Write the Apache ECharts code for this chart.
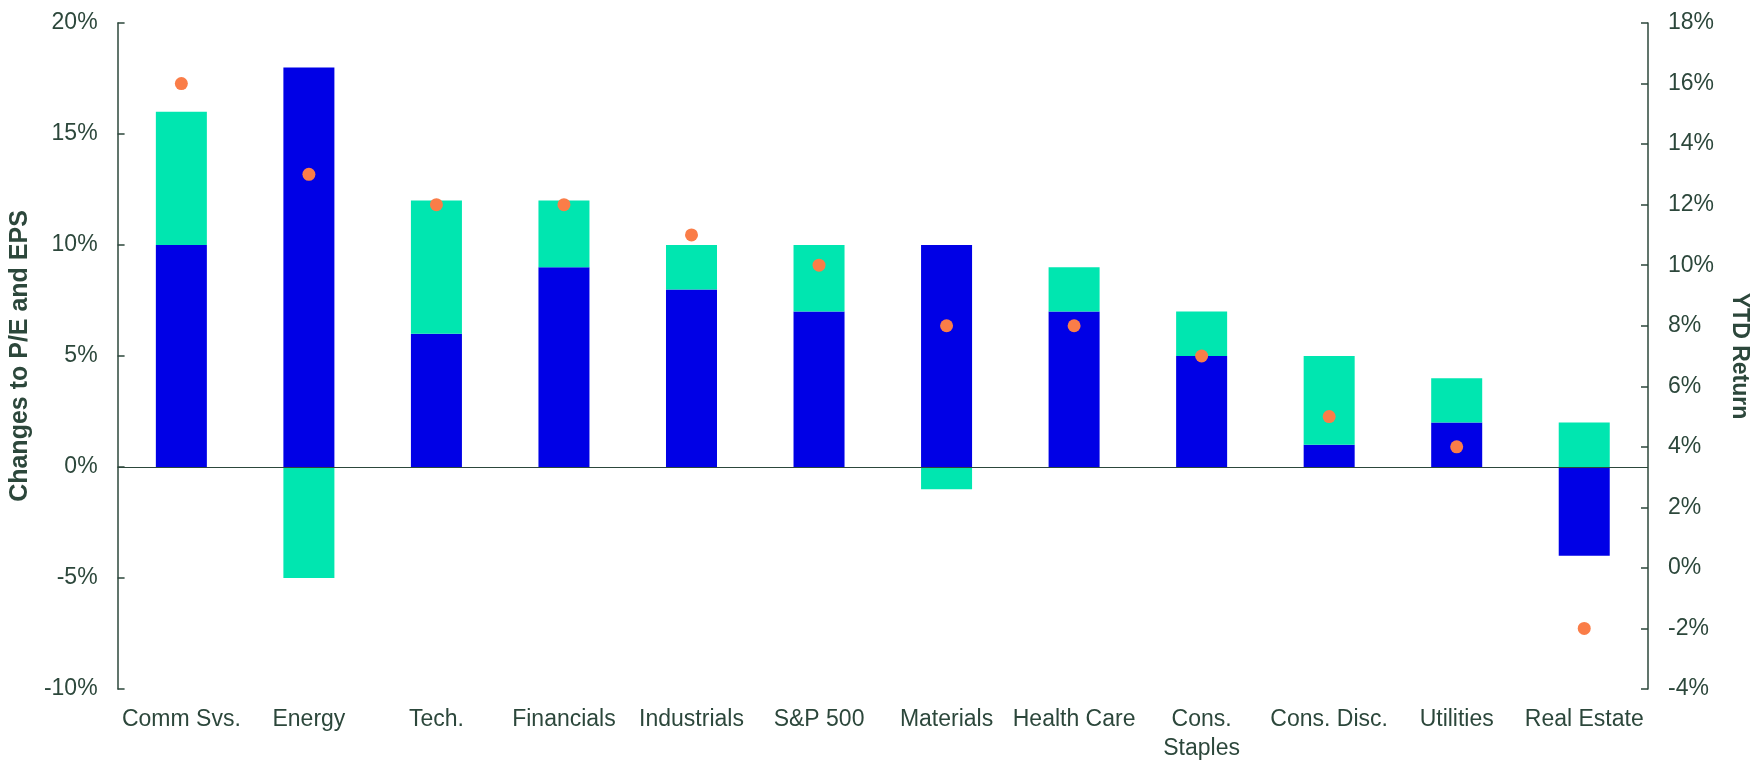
<!DOCTYPE html>
<html>
<head>
    <meta charset="utf-8">
    <title>Changes to P/E and EPS vs YTD Return</title>
    <script src="https://cdn.jsdelivr.net/npm/echarts@6.0.0/dist/echarts.min.js"></script>
    <style>
        html, body { margin: 0; padding: 0; background: #fff; }
        #main { width: 1759px; height: 763px; }
    </style>
</head>
<body>
<div id="main"></div>
<script>
    // data
    var sectors = ['Comm Svs.', 'Energy', 'Tech.', 'Financials', 'Industrials', 'S&P 500',
        'Materials', 'Health Care', 'Cons.\nStaples', 'Cons. Disc.', 'Utilities', 'Real Estate'];
    var epsChange = [10, 18, 6, 9, 8, 7, 10, 7, 5, 1, 2, -4];      // blue part
    var peChange = [6, -5, 6, 3, 2, 3, -1, 2, 2, 4, 2, 2];         // teal part
    var ytdReturn = [16, 13, 12, 12, 11, 10, 8, 8, 7, 5, 4, -2];   // orange dots, right axis

    var textColor = '#2C473B';
    var font = '"Liberation Sans", Arial, sans-serif';

    var chart = echarts.init(document.getElementById('main'));

    var option = {
        animation: false,
        textStyle: { fontFamily: font, color: textColor },
        grid: { left: 116, right: 102, top: 23, bottom: 69 },
        xAxis: {
            type: 'category',
            data: sectors,
            axisLine: { show: false },
            axisTick: { show: false },
            axisLabel: {
                fontSize: 23,
                color: textColor,
                fontFamily: font,
                margin: 16,
                lineHeight: 29,
                interval: 0
            }
        },
        yAxis: [
            {
                type: 'value',
                min: -10,
                max: 20,
                interval: 5,
                name: 'Changes to P/E and EPS',
                nameLocation: 'middle',
                nameGap: 84,
                nameTextStyle: { fontSize: 25, fontWeight: 'bold', color: textColor, fontFamily: font },
                axisLine: { show: true, lineStyle: { color: textColor, width: 1.5 } },
                axisTick: { show: true, inside: true, length: 7, lineStyle: { color: textColor, width: 1.5 } },
                axisLabel: { fontSize: 23, color: textColor, fontFamily: font, margin: 20, formatter: '{value}%' },
                splitLine: { show: false }
            },
            {
                type: 'value',
                min: -4,
                max: 18,
                interval: 2,
                position: 'right',
                name: 'YTD Return',
                nameLocation: 'middle',
                nameRotate: -90,
                nameGap: 80,
                nameTextStyle: { fontSize: 23, fontWeight: 'bold', color: textColor, fontFamily: font },
                axisLine: { show: true, lineStyle: { color: textColor, width: 1.5 } },
                axisTick: { show: true, inside: true, length: 7, lineStyle: { color: textColor, width: 1.5 } },
                axisLabel: { fontSize: 23, color: textColor, fontFamily: font, margin: 20, formatter: '{value}%' },
                splitLine: { show: false }
            }
        ],
        series: [
            {
                name: 'EPS',
                type: 'bar',
                stack: 'chg',
                barWidth: '40%',
                data: epsChange,
                itemStyle: { color: '#0000E6' },
                markLine: {
                    silent: true,
                    symbol: 'none',
                    label: { show: false },
                    lineStyle: { color: textColor, type: 'solid', width: 1.2 },
                    data: [{ yAxis: 0 }]
                }
            },
            {
                name: 'P/E',
                type: 'bar',
                stack: 'chg',
                barWidth: '40%',
                data: peChange,
                itemStyle: { color: '#00E6B0' }
            },
            {
                name: 'YTD Return',
                type: 'scatter',
                yAxisIndex: 1,
                symbolSize: 13,
                data: ytdReturn,
                itemStyle: { color: '#FA7D48', opacity: 1 },
                z: 5
            }
        ]
    };

    chart.setOption(option);
</script>
</body>
</html>
